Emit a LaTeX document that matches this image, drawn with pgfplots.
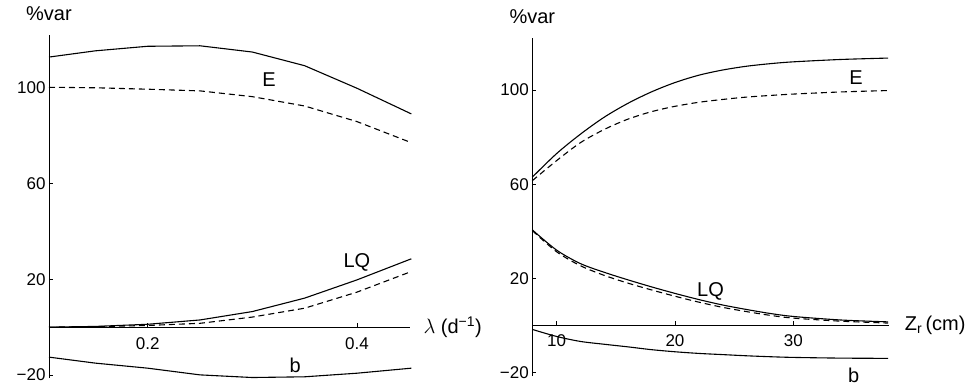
\documentclass[border=0pt]{standalone}
\usepackage{fontspec}
\setmainfont{Liberation Sans}
\usepackage{pgfplots}
\pgfplotsset{compat=1.18}
\begin{document}
\begin{tikzpicture}
\useasboundingbox (0,0) rectangle (970pt,389pt);
\pgfplotsset{
  myax/.style={
    scale only axis,
    axis x line*=middle,
    axis y line*=left,
    axis line style={line width=0.9pt},
    tick align=inside,
    major tick length=4pt,
    tick style={line width=0.8pt,black},
    ticklabel style={font=\fontsize{17}{19}\selectfont},
    clip=false,
  },
  sl/.style={black, line width=1.1pt, no marks},
  dsh/.style={black, line width=1.1pt, no marks, dash pattern=on 6pt off 4pt},
}
% ---- left panel ----
\begin{axis}[myax,
  at={(49pt,11pt)}, anchor=south west,
  width=361pt, height=343pt,
  xmin=0.1057, xmax=0.4507, ymin=-21.2, ymax=121.8,
  xtick={0.2,0.4}, xticklabels={0.2,0.4},
  ytick={-20,20,60,100}, yticklabels={−20,20,60,100},
  xticklabel style={yshift=-7pt},
]
\addplot[sl] coordinates {(0.1057,112.6)(0.15,115.2)(0.2,117.1)(0.25,117.3)(0.3,114.7)(0.35,109)(0.4,99.6)(0.452,88.9)};
\addplot[dsh] coordinates {(0.1057,100)(0.15,99.8)(0.2,99.2)(0.25,98.5)(0.3,96.1)(0.35,92.2)(0.4,85.7)(0.452,76.9)};
\addplot[sl] coordinates {(0.1057,0)(0.15,0.3)(0.2,1.2)(0.25,3)(0.3,6.5)(0.35,12.1)(0.4,19.7)(0.452,28.5)};
\addplot[dsh] coordinates {(0.1057,0)(0.15,0.2)(0.2,0.7)(0.25,1.6)(0.3,4.2)(0.35,7.9)(0.4,14.6)(0.452,23.2)};
\addplot[sl] coordinates {(0.1057,-12.5)(0.15,-15)(0.2,-17.1)(0.25,-19.9)(0.3,-21)(0.35,-20.7)(0.4,-19.2)(0.452,-17.1)};
\node[font=\fontsize{20}{22}\selectfont] at (axis cs:0.316,103) {E};
\node[font=\fontsize{20}{22}\selectfont] at (axis cs:0.400,27.2) {LQ};
\node[font=\fontsize{20}{22}\selectfont] at (axis cs:0.341,-16.1) {b};
\node[font=\fontsize{20}{22}\selectfont] at (axis cs:0.1057,121.8) [yshift=21pt] {\%var};
\node[font=\fontsize{20}{22}\selectfont,anchor=west] at (axis cs:0.4507,0) [xshift=10pt] {$\lambda$ (d\textsuperscript{−1})};
\end{axis}
% ---- right panel ----
\begin{axis}[myax,
  at={(532.3pt,13pt)}, anchor=south west,
  width=357pt, height=337.7pt,
  xmin=7.95, xmax=38.1, ymin=-21.5, ymax=122,
  xtick={10,20,30}, xticklabels={10,20,30},
  ytick={-20,20,60,100}, yticklabels={−20,20,60,100},
  xticklabel style={yshift=-6pt},
]
\addplot[sl,smooth] coordinates {(7.95,63)(10,73)(12,81.2)(14,88.4)(16,94.3)(18,99.2)(20,103.2)(22,106.3)(24,108.5)(26,110.1)(28,111.2)(30,112)(34,113)(38,113.6)};
\addplot[dsh,smooth] coordinates {(7.95,61.5)(10,70)(12,77.6)(14,83.2)(16,87.6)(18,90.8)(20,93.1)(22,94.8)(24,96)(26,97)(28,97.7)(30,98.3)(34,99.2)(38,99.8)};
\addplot[sl,smooth] coordinates {(7.95,40.6)(10,32)(12,26.3)(14,22.6)(16,19.4)(18,16.4)(20,13.6)(22,11.0)(24,8.7)(26,6.8)(28,5.1)(30,3.8)(34,2.3)(38,1.5)};
\addplot[dsh,smooth] coordinates {(7.95,40.3)(10,31.3)(12,25.4)(14,21.3)(16,18.0)(18,15.1)(20,12.4)(22,9.9)(24,7.7)(26,5.9)(28,4.3)(30,3.1)(34,1.8)(38,1.0)};
\addplot[sl,smooth] coordinates {(7.95,-1.7)(10,-4.7)(12,-6.8)(14,-8.0)(16,-9.1)(18,-10.3)(20,-11.2)(22,-11.9)(24,-12.4)(26,-12.9)(28,-13.3)(30,-13.6)(34,-13.9)(38,-14.0)};
\node[font=\fontsize{20}{22}\selectfont] at (axis cs:35.3,105.1) {E};
\node[font=\fontsize{20}{22}\selectfont] at (axis cs:23.0,14.3) {LQ};
\node[font=\fontsize{20}{22}\selectfont] at (axis cs:35.1,-21.1) {b};
\node[font=\fontsize{20}{22}\selectfont] at (axis cs:7.95,122) [yshift=22pt] {\%var};
\node[font=\fontsize{20}{22}\selectfont,anchor=west] at (axis cs:38.1,0) [xshift=12pt] {Z\textsubscript{r}\,(cm)};
\end{axis}
\end{tikzpicture}
\end{document}
